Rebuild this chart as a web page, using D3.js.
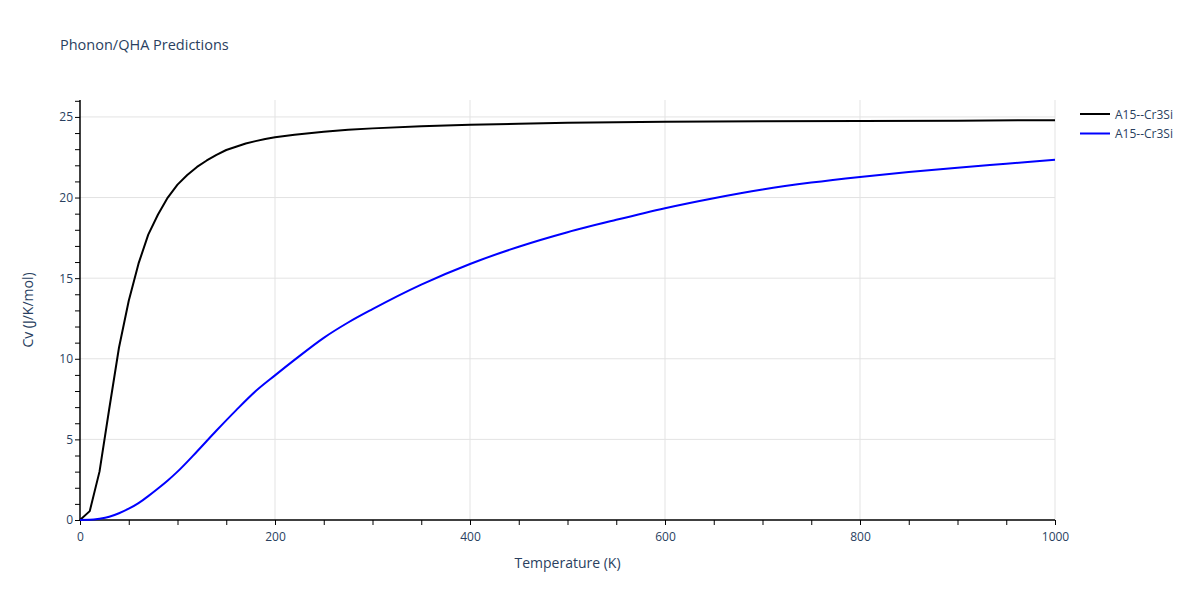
<!DOCTYPE html>
<html><head><meta charset="utf-8">
<script src="https://cdn.jsdelivr.net/npm/d3@7"></script>
<style>body{margin:0;background:#fff}svg{display:block;font-family:"Open Sans",sans-serif}</style>
</head><body><svg id="c" width="1200" height="600"></svg>
<script>
const blackT = [0,10,20,30,40,50,60,70,80,90,100,110,120,130,140,150,160,170,180,190,200,220,250,275,300,350,400,450,500,600,700,800,900,1000];
const blackCv = [0,0.55,3.0,6.9,10.7,13.6,15.9,17.7,18.95,20.0,20.8,21.4,21.9,22.3,22.65,22.95,23.15,23.35,23.5,23.63,23.74,23.9,24.08,24.2,24.29,24.42,24.51,24.58,24.64,24.7,24.73,24.75,24.77,24.8];
const blueT = [0,10,20,30,40,50,60,70,80,90,100,120,140,160,180,200,220,250,275,300,350,400,450,500,550,600,650,700,750,800,850,900,950,1000];
const blueCv = [0,0.01,0.08,0.2,0.42,0.7,1.05,1.48,1.95,2.45,3.0,4.25,5.55,6.8,7.98,8.97,9.93,11.3,12.25,13.08,14.6,15.88,16.95,17.85,18.62,19.34,19.96,20.5,20.93,21.28,21.58,21.85,22.1,22.35];
const seriesNames = ["A15--Cr3Si","A15--Cr3Si"];
const seriesColors = ["#000000","#0000ff"];
const xTicks = [0,200,400,600,800,1000];
const yTicks = [0,5,10,15,20,25];

const svg = d3.select("#c");
const L=80,R=1055,T=100,B=520;
const x = d3.scaleLinear().domain([0,1000]).range([L,R]);
const y = d3.scaleLinear().domain([0,26.05]).range([B,T]);
const txt="#2a3f5f";

svg.append("g").selectAll("line").data(xTicks.slice(1)).join("line")
 .attr("x1",d=>x(d)).attr("x2",d=>x(d)).attr("y1",T).attr("y2",B)
 .attr("stroke","#e3e3e3").attr("stroke-width",1);
svg.append("g").selectAll("line").data(yTicks.slice(1)).join("line")
 .attr("x1",L).attr("x2",R).attr("y1",d=>y(d)).attr("y2",d=>y(d))
 .attr("stroke","#e3e3e3").attr("stroke-width",1);

const xa = svg.append("g").attr("transform",`translate(0,${B})`);
xa.call(d3.axisBottom(x).tickValues(d3.range(0,1001,50)).tickSize(5).tickFormat(d=>xTicks.includes(d)?d:""));
xa.select(".domain").attr("stroke","#000").attr("stroke-width",1.5).attr("d",`M${L},0H${R}`);
xa.selectAll(".tick line").attr("stroke","#000");
xa.selectAll(".tick text").attr("fill",txt).attr("font-size",12).attr("font-family","Open Sans").attr("dy","1.05em");
const ya = svg.append("g").attr("transform",`translate(${L},0)`);
ya.call(d3.axisLeft(y).tickValues(d3.range(0,27,1)).tickSize(5).tickFormat(d=>yTicks.includes(d)?d:""));
ya.select(".domain").attr("stroke","#000").attr("stroke-width",1.5).attr("d",`M0,${B}V${T}`);
ya.selectAll(".tick line").attr("stroke","#000");
ya.selectAll(".tick text").attr("fill",txt).attr("font-size",12).attr("font-family","Open Sans").attr("x",-7);

const lineLin = d3.line().x(d=>x(d[0])).y(d=>y(d[1]));
const lineSm = d3.line().x(d=>x(d[0])).y(d=>y(d[1])).curve(d3.curveMonotoneX);
svg.append("path").datum(d3.zip(blackT,blackCv)).attr("d",lineLin).attr("fill","none")
 .attr("stroke",seriesColors[0]).attr("stroke-width",2).attr("stroke-linejoin","round");
svg.append("path").datum(d3.zip(blueT,blueCv)).attr("d",lineSm).attr("fill","none")
 .attr("stroke",seriesColors[1]).attr("stroke-width",2).attr("stroke-linejoin","round");

svg.append("text").attr("x",60).attr("y",50).attr("fill",txt).attr("font-size",14.5).text("Phonon/QHA Predictions");
svg.append("text").attr("x",(L+R)/2).attr("y",568).attr("text-anchor","middle").attr("fill",txt).attr("font-size",14).text("Temperature (K)");
svg.append("text").attr("transform",`translate(33,${(T+B)/2}) rotate(-90)`).attr("text-anchor","middle").attr("fill",txt).attr("font-size",14).text("Cv (J/K/mol)");

seriesNames.forEach((n,i)=>{
  const ly=114+i*19.5;
  svg.append("line").attr("x1",1080).attr("x2",1110).attr("y1",ly).attr("y2",ly).attr("stroke",seriesColors[i]).attr("stroke-width",2);
  svg.append("text").attr("x",1115).attr("y",ly+4.5).attr("fill",txt).attr("font-size",12).text(n);
});
</script></body></html>
